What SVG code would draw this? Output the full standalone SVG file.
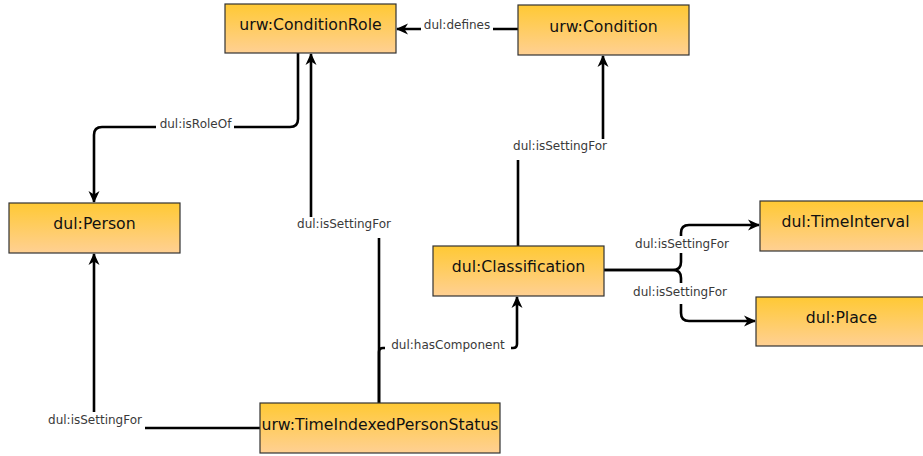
<svg xmlns="http://www.w3.org/2000/svg" width="923" height="456" viewBox="0 0 923 456">
<defs>
<linearGradient id="g" x1="0" y1="0" x2="0" y2="1">
<stop offset="0" stop-color="#ffc934"/>
<stop offset="1" stop-color="#ffd093"/>
</linearGradient>
<marker id="arr" viewBox="0 0 12 12" refX="11" refY="6" markerWidth="12" markerHeight="12" markerUnits="userSpaceOnUse" orient="auto">
<path d="M0,0.5 L12,6 L0,11.5 L3.5,6 z" fill="#000"/>
</marker>
<style>
.node rect{fill:url(#g);stroke:#333;stroke-width:1.2}
.node text{font-family:"DejaVu Sans",sans-serif;font-size:15.7px;fill:#111;text-anchor:middle}
.edge{fill:none;stroke:#000;stroke-width:2.6}
.arrow{marker-end:url(#arr)}
.lbg{fill:#fff}
.lbl{font-family:"DejaVu Sans",sans-serif;font-size:12px;fill:#3a3a3a;text-anchor:middle}
</style>
</defs>
<rect width="923" height="456" fill="#fff"/>
<g id="connectors">
<path class="edge arrow" d="M518,29 H397"/>
<path class="edge arrow" d="M298,53 V119 Q298,127 290,127 H102 Q94,127 94,135 V202"/>
<path class="edge arrow" d="M379,403 V228 H311 V54"/>
<path class="edge arrow" d="M379,403 V352 Q379,348 383,348 H513 Q517,348 517,344 V297"/>
<path class="edge arrow" d="M518,246 V149 H603 V56"/>
<path class="edge arrow" d="M604,270 H673 Q681,270 681,262 V233 Q681,225 689,225 H759"/>
<path class="edge arrow" d="M604,270 H673 Q681,270 681,278 V313 Q681,321 689,321 H755"/>
<path class="edge arrow" d="M260,428 H94 V254"/>
<rect class="lbg" x="421" y="16" width="72" height="20"/>
<text class="lbl" x="457" y="29">dul:defines</text>
<rect class="lbg" x="156" y="117" width="78" height="17"/>
<text class="lbl" x="195.5" y="128">dul:isRoleOf</text>
<rect class="lbg" x="296" y="217" width="95" height="21"/>
<text class="lbl" x="344" y="228">dul:isSettingFor</text>
<rect class="lbg" x="512" y="139" width="97" height="21"/>
<text class="lbl" x="560" y="150">dul:isSettingFor</text>
<rect class="lbg" x="385" y="338" width="126" height="18"/>
<text class="lbl" x="448" y="349">dul:hasComponent</text>
<rect class="lbg" x="632" y="236" width="100" height="17"/>
<text class="lbl" x="682" y="248">dul:isSettingFor</text>
<rect class="lbg" x="630" y="283" width="100" height="21"/>
<text class="lbl" x="680" y="296">dul:isSettingFor</text>
<rect class="lbg" x="46" y="412" width="99" height="21"/>
<text class="lbl" x="95" y="424">dul:isSettingFor</text>
</g>
<g id="n-conditionrole" class="node">
<rect x="225" y="4" width="171" height="49"/>
<text x="310.5" y="30">urw:ConditionRole</text>
</g>
<g id="n-condition" class="node">
<rect x="518" y="5" width="171" height="50"/>
<text x="603.5" y="32">urw:Condition</text>
</g>
<g id="n-person" class="node">
<rect x="9" y="203" width="171" height="50"/>
<text x="94.5" y="229">dul:Person</text>
</g>
<g id="n-classification" class="node">
<rect x="433" y="246" width="171" height="50"/>
<text x="518.5" y="272">dul:Classification</text>
</g>
<g id="n-timeinterval" class="node">
<rect x="760" y="201" width="171" height="50"/>
<text x="845.5" y="227">dul:TimeInterval</text>
</g>
<g id="n-place" class="node">
<rect x="756" y="297" width="171" height="49"/>
<text x="841.5" y="323">dul:Place</text>
</g>
<g id="n-tips" class="node">
<rect x="260" y="403" width="240" height="50"/>
<text x="380" y="430">urw:TimeIndexedPersonStatus</text>
</g>
</svg>
